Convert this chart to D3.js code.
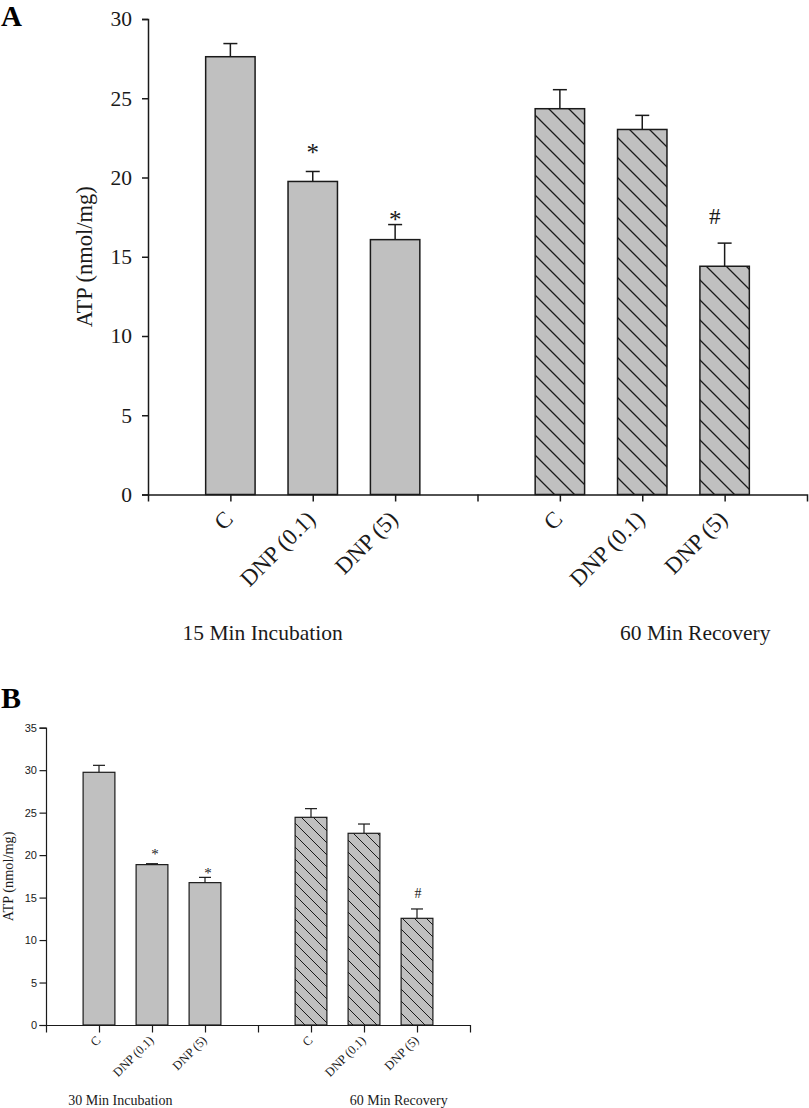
<!DOCTYPE html>
<html>
<head>
<meta charset="utf-8">
<script src="https://cdn.jsdelivr.net/npm/d3@7"></script>
<style>
  html, body { margin: 0; padding: 0; background: #fff; }
  svg { display: block; }
</style>
</head>
<body>
<svg id="chart" width="809" height="1108"></svg>
<script>
// ---------------- DATA ----------------
const categories = ["C", "DNP (0.1)", "DNP (5)"];
const groupsA = ["15 Min Incubation", "60 Min Recovery"];
const groupsB = ["30 Min Incubation", "60 Min Recovery"];

// Panel A (ATP nmol/mg)
const incubationA = [27.62, 19.75, 16.08];
const incubationAErr = [0.83, 0.63, 0.95];
const recoveryA = [24.34, 23.03, 14.40];
const recoveryAErr = [1.20, 0.89, 1.46];

// Panel B (ATP nmol/mg)
const incubationB = [29.75, 18.88, 16.76];
const incubationBErr = [0.82, 0.11, 0.62];
const recoveryB = [24.45, 22.57, 12.56];
const recoveryBErr = [1.02, 1.09, 1.10];

// significance markers (per bar, incubation then recovery) and their heights
const markersA = ["", "*", "*", "", "", "#"];
const markerValuesA = [null, 21.9, 17.65, null, null, 17.6];
const markersB = ["", "*", "*", "", "", "#"];
const markerValuesB = [null, 20.5, 18.25, null, null, 15.5];

const ticksA = [0, 5, 10, 15, 20, 25, 30];
const ticksB = [0, 5, 10, 15, 20, 25, 30, 35];
const yTitle = "ATP (nmol/mg)";
const panelLabels = ["A", "B"];

// ---------------- DRAWING ----------------
const svg = d3.select("#chart");
const SERIF = "'Liberation Serif', 'Times New Roman', serif";
const SANS = "'Liberation Sans', Arial, sans-serif";
const INK = "#1a1a1a";
const FILL = "#c0c0c0";

function buildBars(incV, incE, recV, recE, markers, markerVals) {
  const bars = [];
  incV.forEach((v, i) => bars.push({cat: categories[i], v, e: incE[i], pos: 1 + i, hatch: false, m: markers[i], mv: markerVals[i]}));
  recV.forEach((v, i) => bars.push({cat: categories[i], v, e: recE[i], pos: 5 + i, hatch: true, m: markers[3 + i], mv: markerVals[3 + i]}));
  return bars;
}

// hatch patterns
const defs = svg.append("defs");
function hatchPattern(id, s, sw) {
  const p = defs.append("pattern").attr("id", id)
    .attr("patternUnits", "userSpaceOnUse").attr("width", s).attr("height", s);
  p.append("rect").attr("width", s).attr("height", s).attr("fill", FILL);
  p.append("path")
    .attr("d", `M0,0 L${s},${s} M${-s/2},${s/2} L${s/2},${s*1.5} M${s/2},${-s/2} L${s*1.5},${s/2}`)
    .attr("stroke", INK).attr("stroke-width", sw).attr("fill", "none");
}
hatchPattern("hatchA", 20, 1.3);
hatchPattern("hatchB", 12, 1.0);

function drawPanel(cfg) {
  const g = svg.append("g");
  const x = d3.scaleLinear().domain([0, 8]).range([cfg.x0, cfg.x1]);
  const y = d3.scaleLinear().domain([0, cfg.ymax]).range([cfg.y0, cfg.y1]);
  const bars = buildBars(cfg.incV, cfg.incE, cfg.recV, cfg.recE, cfg.markers, cfg.markerVals);
  const bw = x(0.6) - x(0);

  // error bars
  const eb = g.append("g").attr("stroke", INK).attr("stroke-width", cfg.sw).attr("fill", "none");
  bars.forEach(d => {
    eb.append("line").attr("x1", x(d.pos)).attr("x2", x(d.pos)).attr("y1", y(d.v)).attr("y2", y(d.v + d.e));
    eb.append("line").attr("x1", x(d.pos) - cfg.cap).attr("x2", x(d.pos) + cfg.cap)
      .attr("y1", y(d.v + d.e)).attr("y2", y(d.v + d.e));
  });

  // bars
  g.append("g").selectAll("rect").data(bars).join("rect")
    .attr("x", d => x(d.pos) - bw / 2)
    .attr("y", d => y(d.v))
    .attr("width", bw)
    .attr("height", d => y(0) - y(d.v))
    .attr("fill", d => d.hatch ? `url(#${cfg.hatch})` : FILL)
    .attr("stroke", INK).attr("stroke-width", cfg.sw);

  // markers
  g.append("g").selectAll("text").data(bars.filter(d => d.m)).join("text")
    .attr("x", d => x(d.pos) + (d.m === "#" ? cfg.hashDx : cfg.starDx))
    .attr("y", d => y(d.mv))
    .attr("dy", d => d.m === "*" ? "0.55em" : "0.35em")
    .attr("text-anchor", "middle")
    .attr("font-family", SERIF)
    .attr("font-size", d => d.m === "*" ? cfg.starFont : cfg.hashFont)
    .attr("fill", INK)
    .text(d => d.m);

  // y axis
  const ya = g.append("g").attr("transform", `translate(${cfg.x0},0)`)
    .call(d3.axisLeft(y).tickValues(cfg.ticks).tickSizeOuter(0).tickSize(cfg.tick).tickPadding(cfg.tickPad));
  ya.selectAll("path,line").attr("stroke", INK).attr("stroke-width", cfg.sw);
  ya.selectAll("text").attr("font-family", cfg.tickFontFamily).attr("font-size", cfg.tickFont).attr("fill", INK);

  // x axis
  const xa = g.append("g").attr("transform", `translate(0,${cfg.y0})`)
    .call(d3.axisBottom(x).tickValues([1, 2, 3, 4, 5, 6, 7]).tickFormat("").tickSizeOuter(0).tickSize(cfg.tick + 1));
  xa.selectAll("path,line").attr("stroke", INK).attr("stroke-width", cfg.sw);

  // category labels
  g.append("g").selectAll("text").data(bars).join("text")
    .attr("transform", d => `translate(${x(d.pos) + cfg.labDx},${cfg.y0 + cfg.labDy}) rotate(-45)`)
    .attr("text-anchor", "end")
    .attr("font-family", SERIF).attr("font-size", cfg.catFont).attr("fill", INK)
    .text(d => d.cat);

  // group labels
  g.append("g").selectAll("text").data(cfg.groups).join("text")
    .attr("x", (d, i) => x(i === 0 ? 0.42 : 5.73))
    .attr("y", cfg.groupY)
    .attr("font-family", SERIF).attr("font-size", cfg.groupFont).attr("fill", INK)
    .text(d => d);

  // y title
  g.append("text")
    .attr("transform", `translate(${cfg.titleX},${(cfg.y0 + cfg.y1) / 2 + cfg.titleDy}) rotate(-90)`)
    .attr("text-anchor", "middle")
    .attr("font-family", SERIF).attr("font-size", cfg.titleFont).attr("fill", INK)
    .text(yTitle);

  // panel letter
  g.append("text").attr("x", cfg.letterX).attr("y", cfg.letterY)
    .attr("font-family", SERIF).attr("font-weight", "bold").attr("font-size", cfg.letterFont).attr("fill", "#000")
    .text(cfg.letter);
}

drawPanel({
  letter: panelLabels[0], letterX: 1, letterY: 26, letterFont: 29,
  x0: 148, x1: 807, y0: 494.5, y1: 19, ymax: 30,
  incV: incubationA, incE: incubationAErr, recV: recoveryA, recE: recoveryAErr,
  markers: markersA, markerVals: markerValuesA, groups: groupsA,
  ticks: ticksA, tick: 6, tickPad: 10, tickFont: 21.5, tickFontFamily: SERIF,
  sw: 1.5, cap: 7, hatch: "hatchA",
  starFont: 25, hashFont: 23, starDx: 0, hashDx: -10,
  labDx: 4, labDy: 26, catFont: 23,
  groupY: 640, groupFont: 21.5,
  titleX: 92, titleDy: 0, titleFont: 22.5
});

drawPanel({
  letter: panelLabels[1], letterX: 1, letterY: 708, letterFont: 30,
  x0: 46, x1: 470, y0: 1025, y1: 727.7, ymax: 35,
  incV: incubationB, incE: incubationBErr, recV: recoveryB, recE: recoveryBErr,
  markers: markersB, markerVals: markerValuesB, groups: groupsB,
  ticks: ticksB, tick: 6.5, tickPad: 2.5, tickFont: 11, tickFontFamily: SANS,
  sw: 1.2, cap: 6, hatch: "hatchB",
  starFont: 15, hashFont: 14, starDx: 3, hashDx: 1,
  labDx: 2.5, labDy: 16, catFont: 12.5,
  groupY: 1105, groupFont: 14,
  titleX: 13, titleDy: 0, titleFont: 14.3
});
</script>
</body>
</html>
